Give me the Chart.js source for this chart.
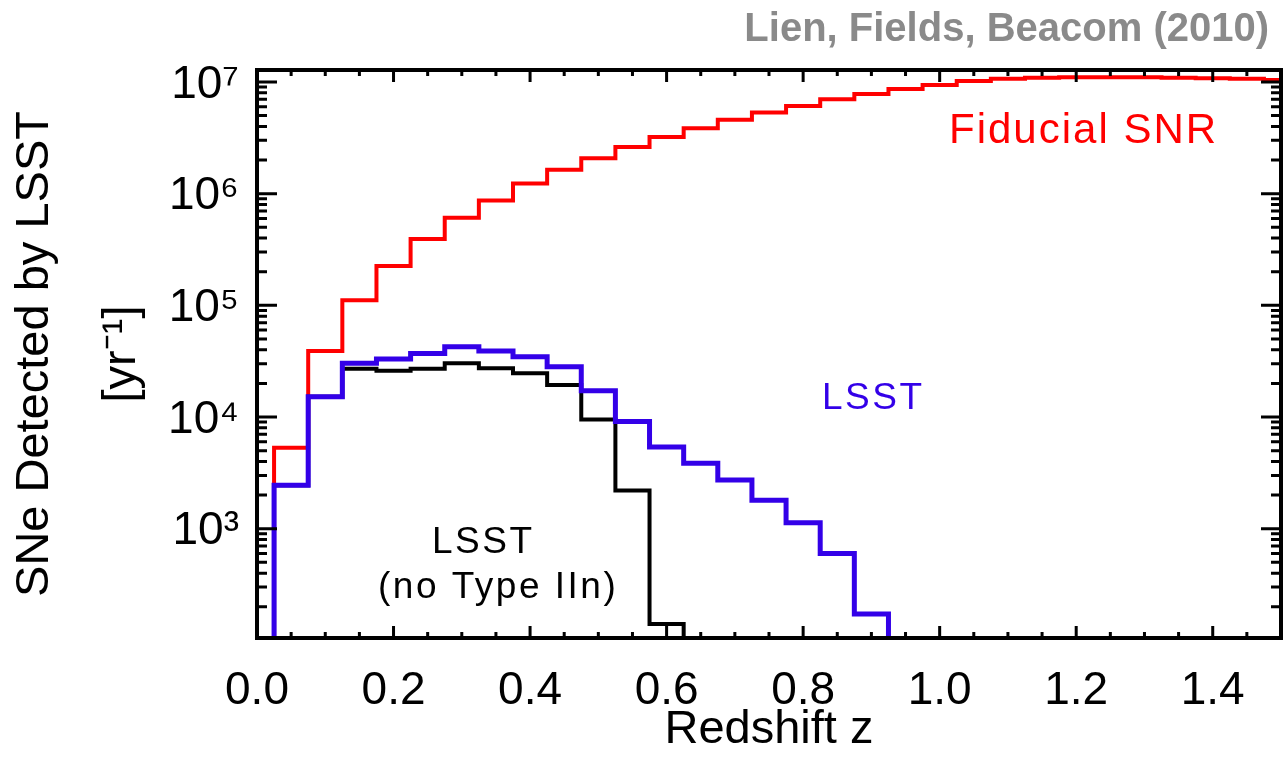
<!DOCTYPE html>
<html>
<head>
<meta charset="utf-8">
<title>SNe Detected by LSST</title>
<script src="https://cdn.jsdelivr.net/npm/chart.js@4.4.1/dist/chart.umd.min.js"></script>
<style>
  html, body { margin: 0; padding: 0; background: #ffffff; }
  canvas { display: block; }
</style>
</head>
<body>
<canvas id="chart" width="1283" height="760"></canvas>
<script>
// Lower edges of the redshift bins (bin width 0.05)
const binEdges = [0.025, 0.075, 0.125, 0.175, 0.225, 0.275, 0.325, 0.375, 0.425, 0.475,
                  0.525, 0.575, 0.625, 0.675, 0.725, 0.775, 0.825, 0.875, 0.925, 0.975,
                  1.025, 1.075, 1.125, 1.175, 1.225, 1.275, 1.325, 1.375, 1.425, 1.475];
const binWidth = 0.05;

// Supernovae per year in each bin
const fiducialSNR = [5300, 39000, 111000, 225000, 393000, 610000, 870000, 1230000, 1640000, 2070000,
                     2620000, 3220000, 3850000, 4600000, 5340000, 6100000, 6990000, 7800000, 8650000, 9400000,
                     10200000, 10700000, 10900000, 11000000, 11000000, 11000000, 10900000, 10800000, 10700000, 10400000];
const lsst = [2450, 15200, 30300, 33000, 37000, 42600, 39000, 34600, 28200, 17200,
              9100, 5400, 3850, 2730, 1800, 1130, 600, 172, 0, 0,
              0, 0, 0, 0, 0, 0, 0, 0, 0, 0];
const lsstNoIIn = [2450, 15200, 27000, 26000, 27000, 30300, 27300, 24600, 19300, 9500,
                   2200, 140, 0, 0, 0, 0, 0, 0, 0, 0,
                   0, 0, 0, 0, 0, 0, 0, 0, 0, 0];

const xTickLabels = ['0.0', '0.2', '0.4', '0.6', '0.8', '1.0', '1.2', '1.4'];
const xMajorStep = 0.2;
const xMinorStep = 0.05;
const yTickExponents = [3, 4, 5, 6, 7];
const xMin = 0, xMax = 1.5;
const yMin = 105, yMax = 1.28e7;

const RED = '#ff0000';
const BLUE = '#3300e8';
const BLACK = '#000000';
const FONT = '"Liberation Sans", Arial, Helvetica, sans-serif';
const SUP = {'-': '\u207B', '0': '\u2070', '1': '\u00B9', '2': '\u00B2', '3': '\u00B3',
             '4': '\u2074', '5': '\u2075', '6': '\u2076', '7': '\u2077', '8': '\u2078', '9': '\u2079'};

// histogram outline: value of each bin holds from its lower edge to the next edge
function steps(values) {
  const floor = yMin / 100; // empty bins fall below the axis
  const pts = [{x: binEdges[0], y: floor}];
  values.forEach((v, i) => pts.push({x: binEdges[i], y: v > 0 ? v : floor}));
  const last = values.length - 1;
  pts.push({x: binEdges[last] + binWidth, y: values[last] > 0 ? values[last] : floor});
  return pts;
}

const frameAndTicks = {
  id: 'frameAndTicks',
  afterDatasetsDraw(chart) {
    const {ctx, chartArea: a, scales: {x, y}} = chart;
    ctx.save();
    ctx.strokeStyle = BLACK;
    ctx.lineCap = 'butt';
    ctx.lineWidth = 3;
    ctx.beginPath();
    for (const t of x.ticks) {
      const px = x.getPixelForValue(t.value);
      const r = t.value / xMajorStep;
      const len = Math.abs(r - Math.round(r)) < 1e-6 ? 12 : 6;
      ctx.moveTo(px, a.bottom); ctx.lineTo(px, a.bottom - len);
      ctx.moveTo(px, a.top); ctx.lineTo(px, a.top + len);
    }
    const eLo = Math.floor(Math.log10(yMin)), eHi = Math.ceil(Math.log10(yMax));
    for (let e = eLo; e <= eHi; e++) {
      for (let m = 1; m < 10; m++) {
        const v = m * Math.pow(10, e);
        if (v < yMin || v > yMax) continue;
        const py = y.getPixelForValue(v);
        const len = m === 1 ? 20 : 10;
        ctx.moveTo(a.left, py); ctx.lineTo(a.left + len, py);
        ctx.moveTo(a.right, py); ctx.lineTo(a.right - len, py);
      }
    }
    ctx.stroke();
    ctx.lineWidth = 4;
    ctx.strokeRect(a.left, a.top, a.right - a.left, a.bottom - a.top);
    ctx.restore();
  },
  afterDraw(chart, args, opts) {
    const ctx = chart.ctx;
    ctx.save();
    for (const l of opts.labels) {
      ctx.font = (l.weight || 'normal') + ' ' + l.size + 'px ' + FONT;
      ctx.fillStyle = l.color;
      ctx.textAlign = l.align || 'left';
      ctx.textBaseline = 'alphabetic';
      if ('letterSpacing' in ctx) ctx.letterSpacing = (l.spacing || 0) + 'px';
      ctx.fillText(l.text, l.x, l.y);
    }
    ctx.restore();
  }
};

new Chart(document.getElementById('chart'), {
  type: 'line',
  data: {
    datasets: [
      {label: 'LSST', data: steps(lsst), borderColor: BLUE, borderWidth: 5},
      {label: 'LSST (no Type IIn)', data: steps(lsstNoIIn), borderColor: BLACK, borderWidth: 4},
      {label: 'Fiducial SNR', data: steps(fiducialSNR), borderColor: RED, borderWidth: 4}
    ].map(d => Object.assign(d, {
      stepped: 'before', pointRadius: 0, fill: false, tension: 0,
      borderJoinStyle: 'miter', borderCapStyle: 'butt', clip: 0
    }))
  },
  options: {
    responsive: false,
    devicePixelRatio: 1,
    animation: false,
    layout: {padding: {left: 0, right: 2, top: 70, bottom: 0}},
    plugins: {
      legend: {display: false},
      tooltip: {enabled: false},
      title: {display: false},
      frameAndTicks: {
        labels: [
          {text: 'Lien, Fields, Beacom (2010)', color: '#8a8a8a', x: 1269, y: 41, size: 40, weight: 'bold', align: 'right'},
          {text: 'Fiducial SNR', color: RED, x: 949, y: 143, size: 42, spacing: 2},
          {text: 'LSST', color: BLUE, x: 822, y: 409, size: 37, spacing: 2.5},
          {text: 'LSST', color: BLACK, x: 432, y: 553, size: 37, spacing: 2.5},
          {text: '(no Type IIn)', color: BLACK, x: 378, y: 598, size: 37, spacing: 2.5}
        ]
      }
    },
    scales: {
      x: {
        type: 'linear',
        min: xMin, max: xMax,
        afterFit: s => { s.height = 122; },
        grid: {display: false},
        border: {display: false},
        ticks: {
          stepSize: xMinorStep,
          autoSkip: false,
          maxRotation: 0,
          padding: 0,
          color: BLACK,
          font: {family: FONT, size: 46, lineHeight: 1.98},
          callback: v => {
            const r = v / xMajorStep;
            const i = Math.round(r);
            return Math.abs(r - i) < 1e-6 && xTickLabels[i] !== undefined ? xTickLabels[i] : '';
          }
        },
        title: {
          display: true,
          text: 'Redshift z',
          color: BLACK,
          font: {family: FONT, size: 47},
          padding: {top: 0, bottom: 2}
        }
      },
      y: {
        type: 'logarithmic',
        min: yMin, max: yMax,
        afterFit: s => { s.width = 257; },
        afterBuildTicks: s => { s.ticks = yTickExponents.map(e => ({value: Math.pow(10, e)})); },
        grid: {display: false},
        border: {display: false},
        ticks: {
          autoSkip: false,
          padding: 10,
          labelOffset: 3,
          color: BLACK,
          font: {family: FONT, size: 46},
          callback: v => '10' + String(Math.round(Math.log10(v))).split('').map(c => SUP[c]).join('')
        },
        title: {
          display: true,
          text: ['SNe Detected by LSST', '[yr' + SUP['-'] + SUP['1'] + ']'],
          color: BLACK,
          font: {family: FONT, size: 47, lineHeight: 1.85},
          padding: {top: -8, bottom: 0}
        }
      }
    }
  },
  plugins: [frameAndTicks]
});
</script>
</body>
</html>
